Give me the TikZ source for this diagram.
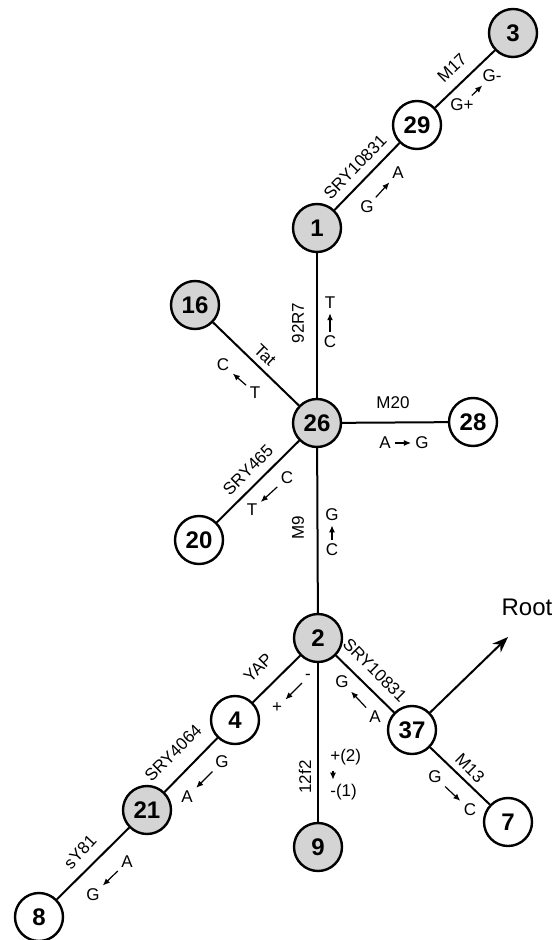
\documentclass[tikz,border=0pt]{standalone}
\usepackage{fontspec}
\setmainfont{Liberation Sans}
\usetikzlibrary{arrows.meta}
\definecolor{hap-grey}{RGB}{212,212,212}

% two letters of a substitution and the small arrow between them
\newcommand{\subst}[5]{%
  \node[tag] (#1a) at (#2) {#4};
  \node[tag] (#1b) at (#3) {#5};
  \draw[swap] (#1a) -- (#1b);
}

\begin{document}
\begin{tikzpicture}[x=0.5pt, y=-0.5pt,
    hap/.style={circle, draw, line width=1.2pt, minimum size=24pt, inner sep=0pt,
      fill=white, font=\bfseries\fontsize{12}{14}\selectfont},
    shaded/.style={hap, fill=hap-grey},
    link/.style={line width=1pt},
    tag/.style={font=\fontsize{8.5}{10}\selectfont, inner sep=0.5pt},
    swap/.style={line width=0.6pt, shorten <=1.5pt, shorten >=1.5pt,
      -{Latex[length=3.5pt, width=3pt]}}]
\useasboundingbox (0,0) rectangle (559,940);

\node[shaded] (n3) at (513,33) {3};
\node[hap] (n29) at (417,125) {29};
\node[shaded] (n1) at (317,228) {1};
\node[shaded] (n16) at (195,305) {16};
\node[shaded] (n26) at (317,423) {26};
\node[hap] (n28) at (473,422) {28};
\node[hap] (n20) at (199,540) {20};
\node[shaded] (n2) at (318,638) {2};
\node[hap] (n4) at (235,720) {4};
\node[shaded] (n21) at (147,810) {21};
\node[hap] (n8) at (39,917) {8};
\node[shaded] (n9) at (318,847) {9};
\node[hap] (n37) at (412,730) {37};
\node[hap] (n7) at (508,822) {7};
\coordinate (roottip) at (508,637);

\draw[link] (n3) -- (n29);
\draw[link] (n29) -- (n1);
\draw[link] (n1) -- (n26);
\draw[link] (n16) -- (n26);
\draw[link] (n26) -- (n28);
\draw[link] (n26) -- (n20);
\draw[link] (n26) -- (n2);
\draw[link] (n2) -- (n4);
\draw[link] (n4) -- (n21);
\draw[link] (n21) -- (n8);
\draw[link] (n2) -- (n9);
\draw[link] (n2) -- (n37);
\draw[link] (n37) -- (n7);
\draw[link, -{Stealth[length=8pt, width=6pt]}] (n37) -- (roottip);
\node[font=\fontsize{12}{14}\selectfont, inner sep=0pt] (root) at (527,607) {Root};

% marker names
\node[tag, rotate=46] (l1) at (355,167) {SRY10831};
\node[tag, rotate=44] (l2) at (452,68) {M17};
\node[tag, rotate=90] (l3) at (298,323) {92R7};
\node[tag, rotate=-44] (l4) at (265,355) {Tat};
\node[tag] (l5) at (393,403) {M20};
\node[tag, rotate=45] (l6) at (248,470) {SRY465};
\node[tag, rotate=90] (l7) at (298,528) {M9};
\node[tag, rotate=45] (l8) at (258,668) {YAP};
\node[tag, rotate=45] (l9) at (173,753) {SRY4064};
\node[tag, rotate=47] (l10) at (80,852) {sY81};
\node[tag, rotate=90] (l11) at (305,777) {12f2};
\node[tag, rotate=-45] (l12) at (375,670) {SRY10831};
\node[tag, rotate=-45] (l13) at (470,768) {M13};

% substitutions
\subst{s1}{367,207}{398,173}{G}{A}
\subst{s2}{462,105}{492,76}{G+}{G-}
\subst{s3}{330,342}{330,303}{C}{T}
\subst{s4}{255,393}{223,365}{T}{C}
\subst{s5}{385,443}{422,443}{A}{G}
\subst{s6}{287,478}{252,510}{C}{T}
\subst{s7}{332,550}{332,515}{C}{G}
\subst{s8}{308,677}{277,708}{-}{+}
\subst{s9}{222,762}{187,797}{G}{A}
\subst{s10}{127,862}{93,895}{A}{G}
\subst{s12}{375,717}{342,682}{A}{G}
\subst{s13}{435,777}{470,810}{G}{C}
\node[tag, anchor=west] (p2) at (329,757) {+(2)};
\node[tag, anchor=west] (p1) at (329,792) {-(1)};
\draw[swap] (p2.south west) ++(4,2) coordinate (pa) -- (pa |- p1.north);
\end{tikzpicture}
\end{document}
